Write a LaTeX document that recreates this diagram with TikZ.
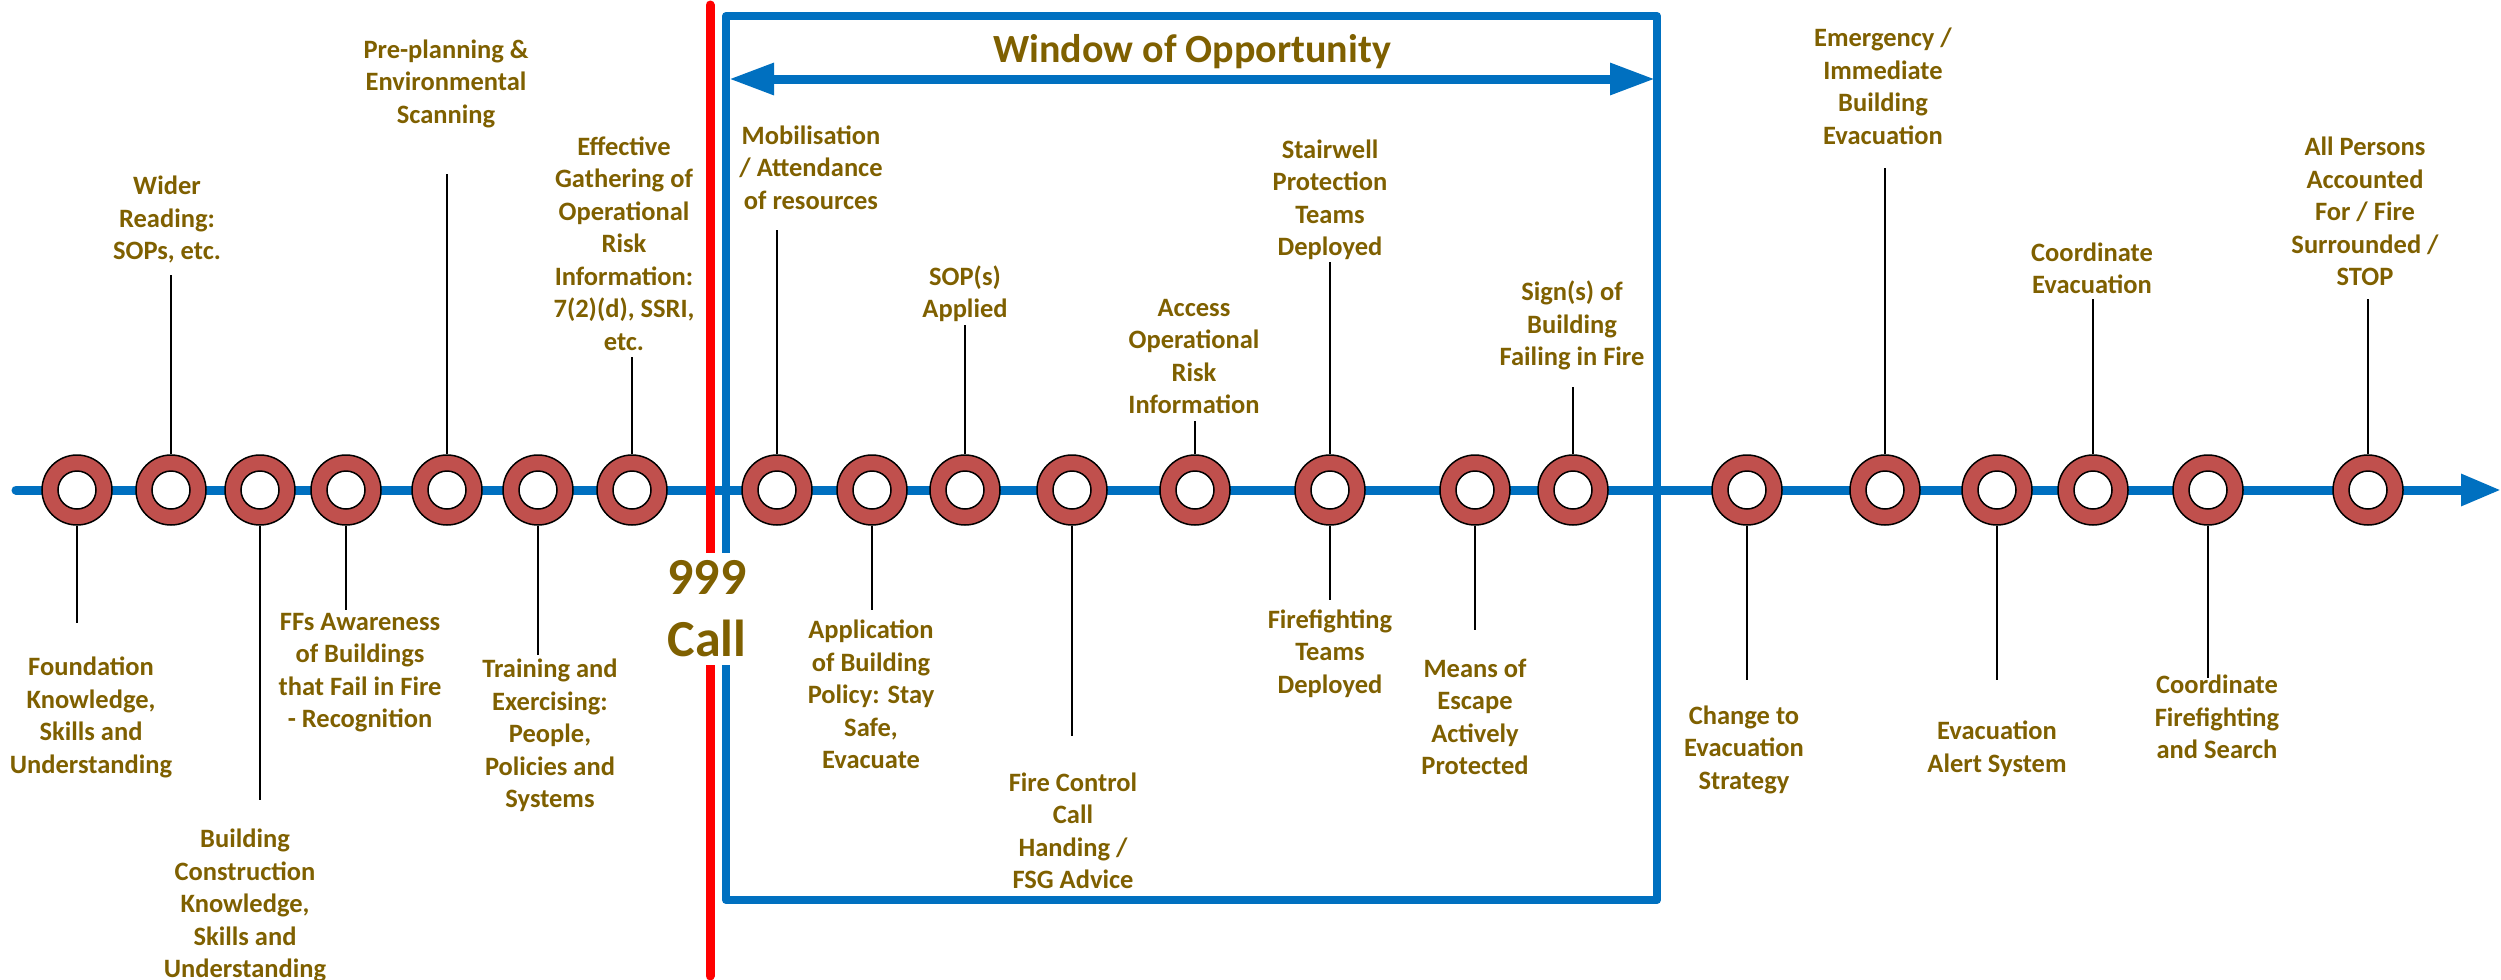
\documentclass[tikz,border=0pt]{standalone}
\usepackage{fontspec}
\setmainfont{Carlito}
\usetikzlibrary{arrows.meta}
\definecolor{tlblue}{HTML}{0070C0}
\definecolor{ringred}{HTML}{C0504D}
\definecolor{txtolive}{HTML}{7F6000}
\begin{document}
\begin{tikzpicture}[x=1pt,y=-1pt,
  ring/.style={circle, fill=ringred, draw=black, line width=1.5pt, minimum size=70pt, inner sep=0pt,
    path picture={\draw[fill=white, line width=1.5pt] (path picture bounding box.center) circle (19pt);}},
  conn/.style={draw=black, line width=1.5pt},
  lbl/.style={font=\bfseries\fontsize{26.5}{32.5}\selectfont, text=txtolive, align=center, inner sep=0pt},
  bigblue/.style={draw=tlblue, line width=9pt}
]
\useasboundingbox (0,0) rectangle (2501,980);
\fill[white] (0,0) rectangle (2501,980);

% window box
\draw[draw=tlblue, line width=8pt, line join=round] (726,16) rectangle (1657,900);
\coordinate (wa) at (729,79);
\coordinate (wb) at (1655,79);
\draw[bigblue, {Triangle[length=45pt,width=30pt]}-{Triangle[length=45pt,width=30pt]}] (wa) -- (wb);
\node[font=\bfseries\fontsize{40}{48}\selectfont, text=txtolive] (wtitle) at (1192,52) {Window of Opportunity};

% timeline
\coordinate (ts) at (16,490);
\coordinate (te) at (2501,490);
\draw[bigblue, line cap=round, -{Triangle[length=40pt,width=30pt]}] (ts) -- (te);

% red 999 line
\coordinate (ra) at (710,5);
\coordinate (rb) at (710,976);
\draw[red, line width=9pt, line cap=round] (ra) -- (rb);

% rings
\foreach \n/\x in {1/77,2/171,3/260,4/346,5/447,6/538,7/632,8/777,9/872,10/965,11/1072,12/1195,13/1330,14/1475,15/1573,16/1747,17/1885,18/1997,19/2093,20/2208,21/2368}
  \node[ring] (c\n) at (\x,490) {};

% connector ends
\coordinate (e1) at (77,623);
\coordinate (e2) at (171,275);
\coordinate (e3) at (260,800);
\coordinate (e4) at (346,610);
\coordinate (e5) at (447,174);
\coordinate (e6) at (538,655);
\coordinate (e7) at (632,357);
\coordinate (e8) at (777,230);
\coordinate (e9) at (872,610);
\coordinate (e10) at (965,325);
\coordinate (e11) at (1072,736);
\coordinate (e12) at (1195,421);
\coordinate (e13a) at (1330,262);
\coordinate (e13b) at (1330,600);
\coordinate (e14) at (1475,630);
\coordinate (e15) at (1573,387);
\coordinate (e16) at (1747,680);
\coordinate (e17) at (1885,168);
\coordinate (e18) at (1997,680);
\coordinate (e19) at (2093,299);
\coordinate (e20) at (2208,678);
\coordinate (e21) at (2368,299);

\draw[conn] (c1.south) -- (e1);
\draw[conn] (c2.north) -- (e2);
\draw[conn] (c3.south) -- (e3);
\draw[conn] (c4.south) -- (e4);
\draw[conn] (c5.north) -- (e5);
\draw[conn] (c6.south) -- (e6);
\draw[conn] (c7.north) -- (e7);
\draw[conn] (c8.north) -- (e8);
\draw[conn] (c9.south) -- (e9);
\draw[conn] (c10.north) -- (e10);
\draw[conn] (c11.south) -- (e11);
\draw[conn] (c12.north) -- (e12);
\draw[conn] (c13.north) -- (e13a);
\draw[conn] (c13.south) -- (e13b);
\draw[conn] (c14.south) -- (e14);
\draw[conn] (c15.north) -- (e15);
\draw[conn] (c16.south) -- (e16);
\draw[conn] (c17.north) -- (e17);
\draw[conn] (c18.south) -- (e18);
\draw[conn] (c19.north) -- (e19);
\draw[conn] (c20.south) -- (e20);
\draw[conn] (c21.north) -- (e21);

% labels above
\node[lbl] (l2) at (167,219.5) {Wider\\Reading:\\SOPs, etc.};
\node[lbl] (l5) at (446,83.5) {Pre-planning \&\\Environmental\\Scanning};
\node[lbl] (l7) at (624,243.5) {Effective\\Gathering of\\Operational\\Risk\\Information:\\7(2)(d), SSRI,\\etc.};
\node[lbl] (l8) at (811,167.5) {Mobilisation\\/ Attendance\\of resources};
\node[lbl] (l10) at (965,293.5) {SOP(s)\\Applied};
\node[lbl] (l12) at (1194,356.5) {Access\\Operational\\Risk\\Information};
\node[lbl] (l13a) at (1330,200) {Stairwell\\Protection\\Teams\\Deployed};
\node[lbl] (l15) at (1572,325.5) {Sign(s) of\\Building\\Failing in Fire};
\node[lbl] (l17) at (1883,86.5) {Emergency /\\Immediate\\Building\\Evacuation};
\node[lbl] (l19) at (2092,268.5) {Coordinate\\Evacuation};
\node[lbl] (l21) at (2365,211.5) {All Persons\\Accounted\\For / Fire\\Surrounded /\\STOP};

% labels below
\node[lbl] (l1) at (91,717.5) {Foundation\\Knowledge,\\Skills and\\Understanding};
\node[lbl] (l3) at (245,905.5) {Building\\Construction\\Knowledge,\\Skills and\\Understanding};
\node[lbl] (l4) at (360,672.5) {FFs Awareness\\of Buildings\\that Fail in Fire\\- Recognition};
\node[lbl] (l6) at (550,735.5) {Training and\\Exercising:\\People,\\Policies and\\Systems};
\node[lbl] (l9) at (871,694.5) {Application\\of Building\\Policy: Stay\\Safe,\\Evacuate};
\node[lbl] (l11) at (1073,831) {Fire Control\\Call\\Handing /\\FSG Advice};
\node[lbl] (l13b) at (1330,653.5) {Firefighting\\Teams\\Deployed};
\node[lbl] (l14) at (1475,717) {Means of\\Escape\\Actively\\Protected};
\node[lbl] (l16) at (1744,749.5) {Change to\\Evacuation\\Strategy};
\node[lbl] (l18) at (1997,749) {Evacuation\\Alert System};
\node[lbl] (l20) at (2217,717) {Coordinate\\Firefighting\\and Search};

% 999 call
\node[fill=white, text=txtolive, font=\bfseries\fontsize{52}{62}\selectfont, align=center, inner xsep=3pt, inner ysep=8pt] (call) at (707,609) {999\\Call};
\end{tikzpicture}
\end{document}
